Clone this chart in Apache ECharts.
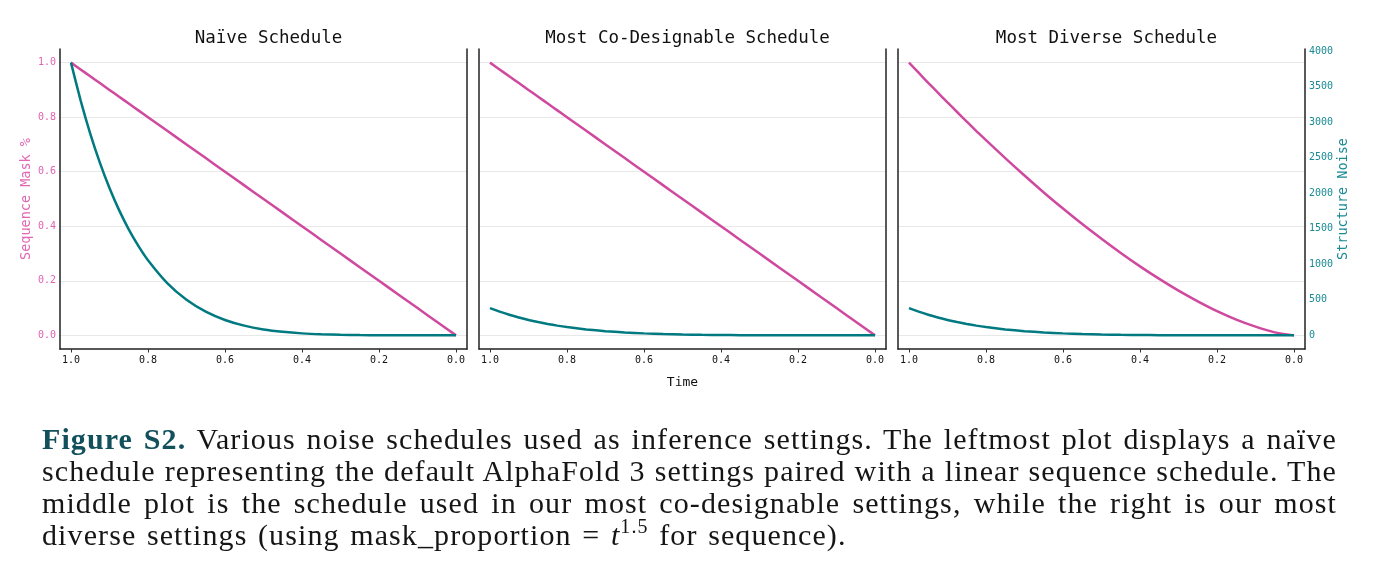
<!DOCTYPE html>
<html>
<head>
<meta charset="utf-8">
<script src="https://cdn.jsdelivr.net/npm/echarts@6/dist/echarts.min.js"></script>
<style>
  html, body { margin: 0; padding: 0; background: #fff; }
  #chart { position: absolute; left: 0; top: 0; width: 1373px; height: 581px; }
  .cap {
    position: absolute; left: 42px; width: 1295px;
    font-family: "Liberation Serif", serif; font-size: 30px; line-height: 32px;
    letter-spacing: 1.1px; color: #151515; white-space: nowrap;
  }
  .just { text-align: justify; text-align-last: justify; }
  .fig { font-weight: bold; color: #12505c; }
  .sup { font-size: 20px; position: relative; top: -12px; }
</style>
</head>
<body>
<div id="chart"></div>
<div class="cap just" style="top:423px"><span class="fig">Figure S2.</span> Various noise schedules used as inference settings. The leftmost plot displays a naïve</div>
<div class="cap just" style="top:455px">schedule representing the default AlphaFold 3 settings paired with a linear sequence schedule. The</div>
<div class="cap just" style="top:487px">middle plot is the schedule used in our most co-designable settings, while the right is our most</div>
<div class="cap" style="top:519px; word-spacing:2px">diverse settings (using mask_proportion = <i>t</i><span class="sup">1.5</span> for sequence).</div>
<script>
// values
const time = [1.0, 0.975, 0.95, 0.925, 0.9, 0.875, 0.85, 0.825, 0.8, 0.75, 0.7, 0.65, 0.6, 0.55, 0.5, 0.45, 0.4, 0.35, 0.3, 0.25, 0.2, 0.15, 0.1, 0.05, 0.0];
const maskLinear = [1.0, 0.975, 0.95, 0.925, 0.9, 0.875, 0.85, 0.825, 0.8, 0.75, 0.7, 0.65, 0.6, 0.55, 0.5, 0.45, 0.4, 0.35, 0.3, 0.25, 0.2, 0.15, 0.1, 0.05, 0.0];
const maskDiverse = [1.0, 0.963, 0.926, 0.890, 0.854, 0.819, 0.784, 0.749, 0.716, 0.650, 0.586, 0.524, 0.465, 0.408, 0.354, 0.302, 0.253, 0.207, 0.164, 0.125, 0.089, 0.058, 0.032, 0.011, 0.0];
const noiseNaive = [3840, 3309, 2842, 2433, 2075, 1763, 1493, 1259, 1057, 735, 501, 334, 217, 137, 84, 50, 28, 15, 8, 4, 2, 1, 0, 0, 0];
const noiseLow = [384, 335, 291, 252, 217, 187, 161, 137, 117, 84, 59, 41, 28, 19, 12, 7.6, 4.6, 2.7, 1.5, 0.8, 0.4, 0.2, 0.1, 0, 0];
const titles = ['Naïve Schedule', 'Most Co-Designable Schedule', 'Most Diverse Schedule'];
const xTicks = [0, 0.2, 0.4, 0.6, 0.8, 1.0];
const maskTicks = [0, 0.2, 0.4, 0.6, 0.8, 1.0];
const noiseTicks = [0, 500, 1000, 1500, 2000, 2500, 3000, 3500, 4000];

const PINK = '#cf4a9f';
const TEAL = '#007a80';
const MONO = 'DejaVu Sans Mono';

const panels = [
  { left: 60, mask: maskLinear, noise: noiseNaive },
  { left: 479, mask: maskLinear, noise: noiseLow },
  { left: 898, mask: maskDiverse, noise: noiseLow }
];
const W = 407;

const grid = [], xAxis = [], yAxis = [], series = [], title = [];
panels.forEach((p, i) => {
  grid.push({ left: p.left, top: 49, width: W, height: 300 });
  title.push({
    text: titles[i], left: p.left + W / 2, top: 24, textAlign: 'center',
    textStyle: { fontFamily: MONO, fontSize: 17.5, fontWeight: 'normal', color: '#111' }
  });
  xAxis.push({
    type: 'value', gridIndex: i, min: -0.0285, max: 1.0285, inverse: true,
    name: i === 1 ? 'Time' : '', nameLocation: 'middle', nameGap: 27,
    nameTextStyle: { fontFamily: MONO, fontSize: 13, color: '#111' },
    axisLine: { onZero: false, lineStyle: { color: '#222', width: 1.5 } },
    axisTick: { show: true, length: 3.5, customValues: xTicks, lineStyle: { color: '#333' } },
    axisLabel: {
      customValues: xTicks, formatter: v => v.toFixed(1), margin: 6,
      fontFamily: MONO, fontSize: 10, color: '#111'
    },
    splitLine: { show: false }
  });
  yAxis.push({
    type: 'value', gridIndex: i, position: 'left', min: -0.05, max: 1.05,
    name: i === 0 ? 'Sequence Mask %' : '', nameLocation: 'middle', nameGap: 27, nameRotate: 90,
    nameTextStyle: { fontFamily: MONO, fontSize: 13.5, color: '#e068b4' },
    axisLine: { show: true, onZero: false, lineStyle: { color: '#222', width: 1.5 } },
    axisTick: { show: false, customValues: maskTicks },
    axisLabel: {
      show: i === 0, customValues: maskTicks, formatter: v => v.toFixed(1), margin: 4,
      fontFamily: MONO, fontSize: 10, color: '#e062b0'
    },
    splitLine: { show: true, lineStyle: { color: '#e8e8e8', width: 1 } }
  });
  yAxis.push({
    type: 'value', gridIndex: i, position: 'right', min: -192, max: 4032,
    name: i === 2 ? 'Structure Noise' : '', nameLocation: 'middle', nameGap: 29, nameRotate: 90,
    nameTextStyle: { fontFamily: MONO, fontSize: 13.5, color: '#1a8a94' },
    axisLine: { show: true, onZero: false, lineStyle: { color: '#222', width: 1.5 } },
    axisTick: { show: false, customValues: noiseTicks },
    axisLabel: {
      show: i === 2, customValues: noiseTicks, formatter: v => String(v), margin: 4,
      fontFamily: MONO, fontSize: 10, color: '#1a8a94'
    },
    splitLine: { show: false }
  });
  series.push({
    type: 'line', xAxisIndex: i, yAxisIndex: 2 * i, showSymbol: false, smooth: 0.2,
    data: time.map((t, k) => [t, p.mask[k]]),
    lineStyle: { color: PINK, width: 2.5 }, itemStyle: { color: PINK }, z: 2
  });
  series.push({
    type: 'line', xAxisIndex: i, yAxisIndex: 2 * i + 1, showSymbol: false, smooth: 0.2,
    data: time.map((t, k) => [t, p.noise[k]]),
    lineStyle: { color: TEAL, width: 2.5 }, itemStyle: { color: TEAL }, z: 3
  });
});

const myChart = echarts.init(document.getElementById('chart'));
myChart.setOption({
  animation: false,
  backgroundColor: '#fff',
  title, grid, xAxis, yAxis, series
});
</script>
</body>
</html>
